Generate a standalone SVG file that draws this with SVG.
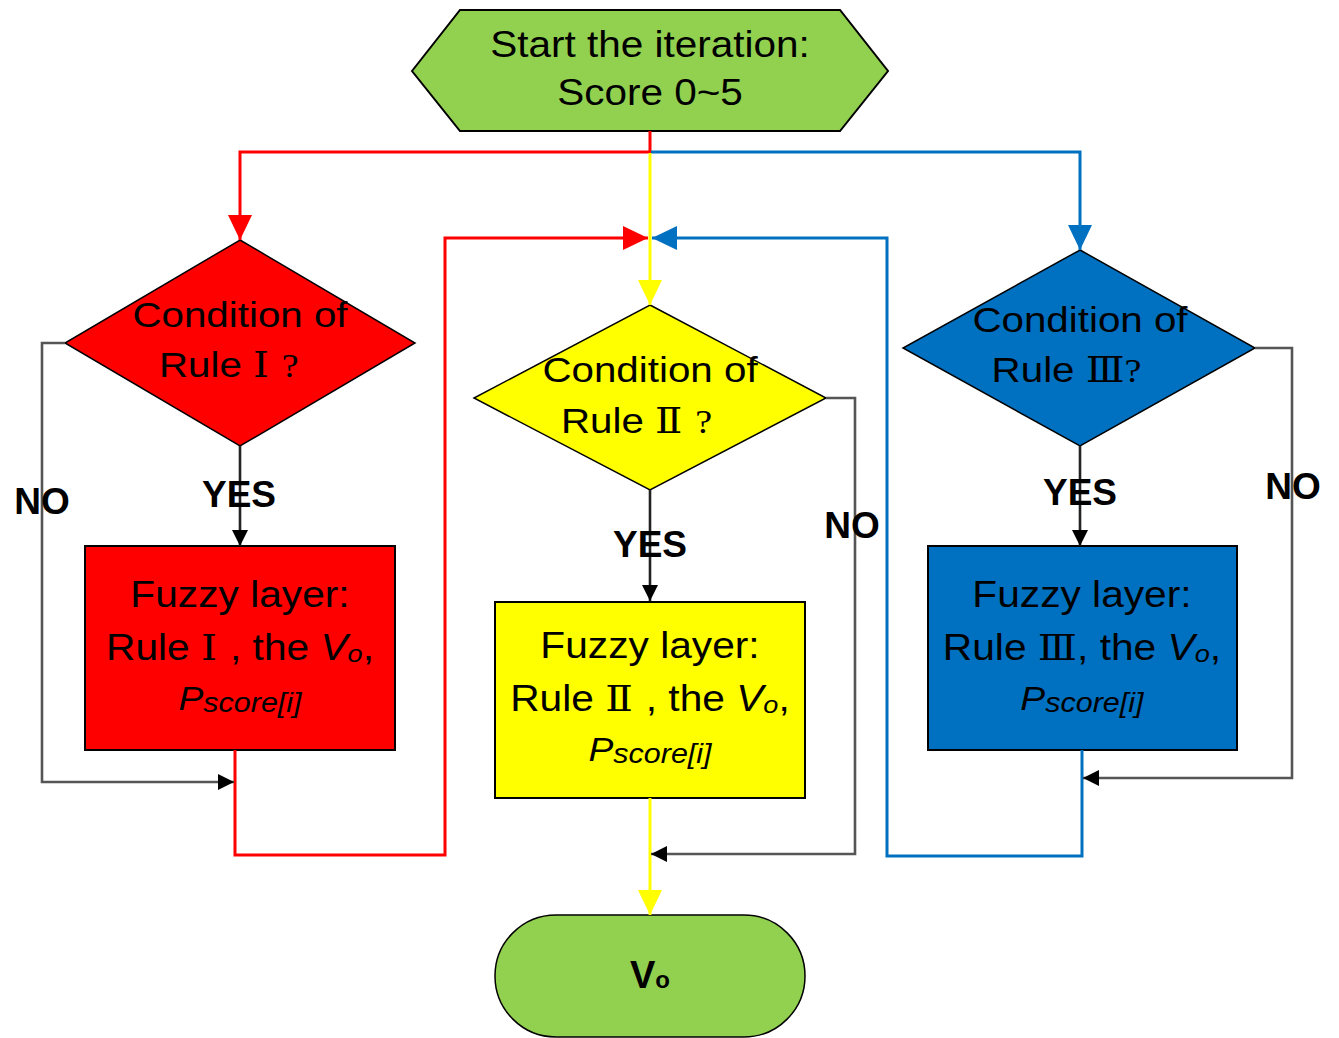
<svg xmlns="http://www.w3.org/2000/svg" width="1339" height="1038" viewBox="0 0 1339 1038">
<style>
.t{font-family:"Liberation Sans",Arial,sans-serif;font-size:36px;fill:#000;text-anchor:middle}
.lbl{font-family:"Liberation Sans",Arial,sans-serif;font-size:37px;font-weight:bold;fill:#000;text-anchor:middle}
.rn{font-family:"DejaVu Serif","Liberation Serif",serif;font-size:36px}
.q{font-family:"Liberation Serif",serif;font-size:34px}
.it{font-style:italic}
.sub{font-size:24px;font-style:italic}
.node{stroke:#000;stroke-width:2}
.c{fill:none;stroke-width:3;stroke-linejoin:miter}
.red{stroke:#FF0000}
.blue{stroke:#0070C0}
.yel{stroke:#FFFF00}
.gray{stroke:#555;stroke-width:2.6}
</style>
<defs>
<marker id="aR" markerUnits="userSpaceOnUse" markerWidth="26" markerHeight="24" refX="25" refY="12" orient="auto"><path d="M0,0 L25,12 L0,24 z" fill="#FF0000"/></marker>
<marker id="aB" markerUnits="userSpaceOnUse" markerWidth="26" markerHeight="24" refX="25" refY="12" orient="auto"><path d="M0,0 L25,12 L0,24 z" fill="#0070C0"/></marker>
<marker id="aY" markerUnits="userSpaceOnUse" markerWidth="26" markerHeight="24" refX="25" refY="12" orient="auto"><path d="M0,0 L25,12 L0,24 z" fill="#FFFF00"/></marker>
<marker id="aK" markerUnits="userSpaceOnUse" markerWidth="17" markerHeight="16" refX="16" refY="8" orient="auto"><path d="M0,0 L16,8 L0,16 z" fill="#000"/></marker>
</defs>
<rect width="1339" height="1038" fill="#fff"/>

<g id="start">
<polygon class="node" points="412,71 460,10 840,10 888,71 840,131 460,131" fill="#92D050"/>
<g transform="matrix(1.08,0,0,1,-52,0)">
<text class="t" x="650" y="57" style="font-size:37.5px">Start the iteration:</text>
<text class="t" x="650" y="105" style="font-size:37.5px">Score 0~5</text>
</g>
</g>

<g id="cond1">
<polygon class="node" points="240,240 415,343 240,446 65,343" fill="#FF0000" style="stroke-width:1.5"/>
<g transform="matrix(1.12,0,0,1,-28.8,0)">
<text class="t" x="240" y="327">Condition of</text>
<text class="t" x="230" y="377">Rule <tspan class="rn"> Ⅰ </tspan><tspan class="q">?</tspan></text>
</g>
</g>

<g id="fuzzy1">
<rect class="node" x="85" y="546" width="310" height="204" fill="#FF0000"/>
<g transform="matrix(1.13,0,0,1,-31.2,0)">
<text class="t" x="240" y="607">Fuzzy layer:</text>
<text class="t" x="240" y="660">Rule <tspan class="rn"> Ⅰ </tspan>, the <tspan class="it">V</tspan><tspan class="sub" dy="2">o</tspan><tspan dy="-2">,</tspan></text>
<text class="t" x="240" y="710"><tspan class="it" style="font-size:33px">P</tspan><tspan class="sub" style="font-size:27px" dy="2">score[i]</tspan></text>
</g>
</g>

<g id="cond2">
<polygon class="node" points="650,305 826,398 650,490 474,398" fill="#FFFF00" style="stroke-width:1.5"/>
<g transform="matrix(1.12,0,0,1,-78,0)">
<text class="t" x="650" y="382">Condition of</text>
<text class="t" x="638" y="433">Rule <tspan class="rn"> Ⅱ </tspan><tspan class="q">?</tspan></text>
</g>
</g>

<g id="fuzzy2">
<rect class="node" x="495" y="602" width="310" height="196" fill="#FFFF00"/>
<g transform="matrix(1.13,0,0,1,-84.5,0)">
<text class="t" x="650" y="658">Fuzzy layer:</text>
<text class="t" x="650" y="711">Rule <tspan class="rn"> Ⅱ </tspan>, the <tspan class="it">V</tspan><tspan class="sub" dy="2">o</tspan><tspan dy="-2">,</tspan></text>
<text class="t" x="650" y="761"><tspan class="it" style="font-size:33px">P</tspan><tspan class="sub" style="font-size:27px" dy="2">score[i]</tspan></text>
</g>
</g>

<g id="cond3">
<polygon class="node" points="1080,250 1255,348 1080,446 903,348" fill="#0070C0" style="stroke-width:1.5"/>
<g transform="matrix(1.12,0,0,1,-129.6,0)">
<text class="t" x="1080" y="332">Condition of</text>
<text class="t" x="1068" y="382">Rule <tspan class="rn">Ⅲ</tspan><tspan class="q">?</tspan></text>
</g>
</g>

<g id="fuzzy3">
<rect class="node" x="928" y="546" width="309" height="204" fill="#0070C0"/>
<g transform="matrix(1.13,0,0,1,-140.7,0)">
<text class="t" x="1082" y="607">Fuzzy layer:</text>
<text class="t" x="1082" y="660">Rule <tspan class="rn">Ⅲ</tspan>, the <tspan class="it">V</tspan><tspan class="sub" dy="2">o</tspan><tspan dy="-2">,</tspan></text>
<text class="t" x="1082" y="710"><tspan class="it" style="font-size:33px">P</tspan><tspan class="sub" style="font-size:27px" dy="2">score[i]</tspan></text>
</g>
</g>

<g id="end">
<rect class="node" x="495" y="915" width="310" height="122" rx="61" ry="61" fill="#92D050" style="stroke-width:1.5"/>
<text class="lbl" x="650" y="988" style="font-size:38px">V<tspan style="font-size:24px">o</tspan></text>
</g>

<g id="connectors">
<path class="c red" d="M650,131 V152 H240 V240" marker-end="url(#aR)"/>
<path class="c blue" d="M651,152 H1080 V250" marker-end="url(#aB)"/>
<path class="c yel" d="M650,153 V305" marker-end="url(#aY)"/>
<path class="c red" d="M235,750 V855 H445 V238 H648" marker-end="url(#aR)"/>
<path class="c blue" d="M1082,750 V856 H887 V238 H652" marker-end="url(#aB)"/>
<path class="c yel" d="M650,798 V915" marker-end="url(#aY)"/>
<path class="c gray" d="M65,343 H42 V782 H234" marker-end="url(#aK)"/>
<path class="c gray" d="M826,398 H855 V854 H651" marker-end="url(#aK)"/>
<path class="c gray" d="M1255,348 H1292 V778 H1083" marker-end="url(#aK)"/>
<path class="c gray" d="M240,446 V546" style="stroke:#222" marker-end="url(#aK)"/>
<path class="c gray" d="M650,490 V601" style="stroke:#222" marker-end="url(#aK)"/>
<path class="c gray" d="M1080,446 V546" style="stroke:#222" marker-end="url(#aK)"/>
</g>

<g id="labels">
<text class="lbl" x="42" y="514">NO</text>
<text class="lbl" x="239" y="507">YES</text>
<text class="lbl" x="650" y="557">YES</text>
<text class="lbl" x="852" y="538">NO</text>
<text class="lbl" x="1080" y="505">YES</text>
<text class="lbl" x="1293" y="499">NO</text>
</g>
</svg>
